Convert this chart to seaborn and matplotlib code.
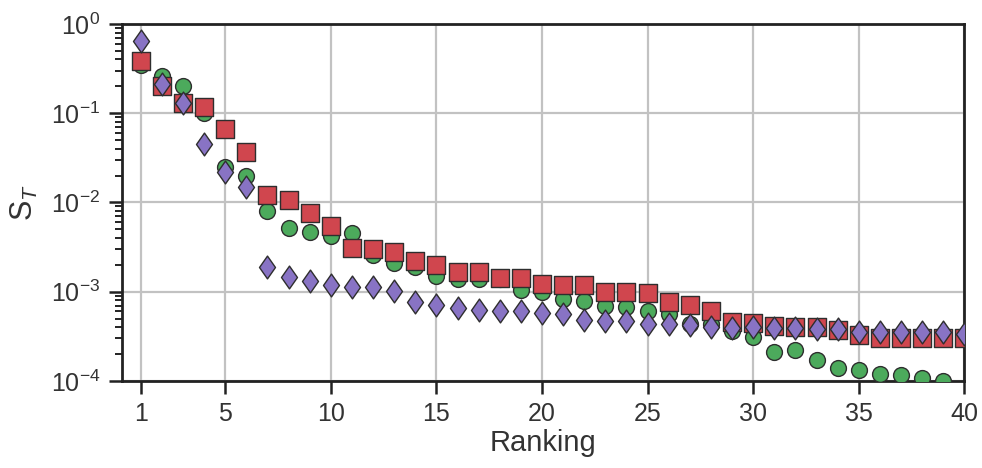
import numpy as np
import pandas as pd
import matplotlib
matplotlib.use("Agg")
import matplotlib.pyplot as plt
from matplotlib.path import Path
import seaborn as sns
from matplotlib.ticker import LogLocator, FixedLocator

# Total-order sensitivity index of each parameter, sorted by ranking
rank_a = list(range(1, 40))
st_a = [0.35, 0.26, 0.20, 0.10, 0.025, 0.020, 0.0081, 0.0052, 0.0047, 0.0042,
        0.0045, 0.0026, 0.0021, 0.0019, 0.0015, 0.00138, 0.00138, 0.0014, 0.00104, 0.00098,
        0.00083, 0.00079, 0.00070, 0.00068, 0.00061, 0.00056, 0.00044, 0.00043, 0.00036, 0.00031,
        0.00021, 0.00022, 0.00017, 0.000138, 0.000131, 0.00012, 0.000116, 0.000107, 0.0001]

rank_b = list(range(1, 41))
st_b = [0.38, 0.20, 0.13, 0.118, 0.066, 0.037, 0.012, 0.0107, 0.0076, 0.0055,
        0.0031, 0.0030, 0.0028, 0.0022, 0.0020, 0.00166, 0.00166, 0.00141, 0.00143, 0.00122,
        0.00120, 0.00118, 0.00100, 0.00100, 0.00096, 0.00076, 0.00071, 0.00061, 0.00046, 0.00045,
        0.00041, 0.00040, 0.00040, 0.00037, 0.00033, 0.00030, 0.00030, 0.00030, 0.00030, 0.00030]

rank_c = list(range(1, 41))
st_c = [0.64, 0.21, 0.13, 0.045, 0.022, 0.015, 0.0019, 0.00145, 0.00131, 0.0012,
        0.00112, 0.00112, 0.00103, 0.00076, 0.00071, 0.00066, 0.00063, 0.00060, 0.00061, 0.00057,
        0.00056, 0.00048, 0.00047, 0.00047, 0.00044, 0.00044, 0.00042, 0.00040, 0.00039, 0.00040,
        0.00039, 0.00039, 0.00038, 0.00038, 0.00035, 0.00035, 0.00035, 0.00035, 0.00035, 0.00034]

x_ticks = [1, 5, 10, 15, 20, 25, 30, 35, 40]

df = pd.concat([
    pd.DataFrame({"rank": rank_a, "ST": st_a, "set": "A"}),
    pd.DataFrame({"rank": rank_b, "ST": st_b, "set": "B"}),
    pd.DataFrame({"rank": rank_c, "ST": st_c, "set": "C"}),
], ignore_index=True)

sns.set_style("ticks", {"axes.grid": True, "grid.color": "#c2c2c2",
                        "axes.edgecolor": "#222222"})
plt.rcParams["font.family"] = ["Liberation Sans", "DejaVu Sans"]
plt.rcParams["mathtext.fontset"] = "custom"
plt.rcParams["mathtext.rm"] = "Liberation Sans"
plt.rcParams["mathtext.it"] = "Liberation Sans:italic"

fig = plt.figure(figsize=(9.82, 4.68), dpi=100)
ax = fig.add_axes([0.124, 0.186, 0.858, 0.763])

# diamond a little wider than matplotlib's thin diamond
diamond = Path([(0, 1), (0.7, 0), (0, -1), (-0.7, 0), (0, 1)],
               [Path.MOVETO, Path.LINETO, Path.LINETO, Path.LINETO, Path.CLOSEPOLY])

palette = {"A": "#4caa5c", "B": "#d0464e", "C": "#8873c4"}
markers = {"A": "o", "B": "s", "C": diamond}
sizes = {"A": 130, "B": 155, "C": 270}

for key in ["A", "B", "C"]:
    sub = df[df["set"] == key]
    sns.scatterplot(data=sub, x="rank", y="ST", ax=ax, color=palette[key],
                    marker=markers[key], s=sizes[key], edgecolor="#2e2e2e",
                    linewidth=1.0, legend=False, zorder=3)

ax.set_yscale("log")
ax.set_ylim(1e-4, 1)
ax.set_xlim(0.1, 40)
ax.xaxis.set_major_locator(FixedLocator(x_ticks))
ax.yaxis.set_major_locator(LogLocator(base=10, numticks=10))
ax.yaxis.set_minor_locator(LogLocator(base=10, subs=np.arange(2, 10), numticks=10))

ax.grid(True, which="major", color="#c2c2c2", linewidth=1.6)
ax.grid(False, which="minor")
ax.set_axisbelow(True)

for s in ax.spines.values():
    s.set_linewidth(2)
    s.set_color("#222222")

ax.tick_params(axis="both", which="major", length=9.5, width=1.8, labelsize=18,
               color="#222222", labelcolor="#333333", pad=6)
ax.tick_params(axis="y", which="minor", length=5, width=1.4, color="#222222")

ax.set_xlabel("Ranking", fontsize=21, color="#333333", labelpad=2)
ax.set_ylabel(r"$\mathrm{S}_{T}$", fontsize=22, color="#333333", labelpad=8)

fig.savefig("out.png", dpi=100)
